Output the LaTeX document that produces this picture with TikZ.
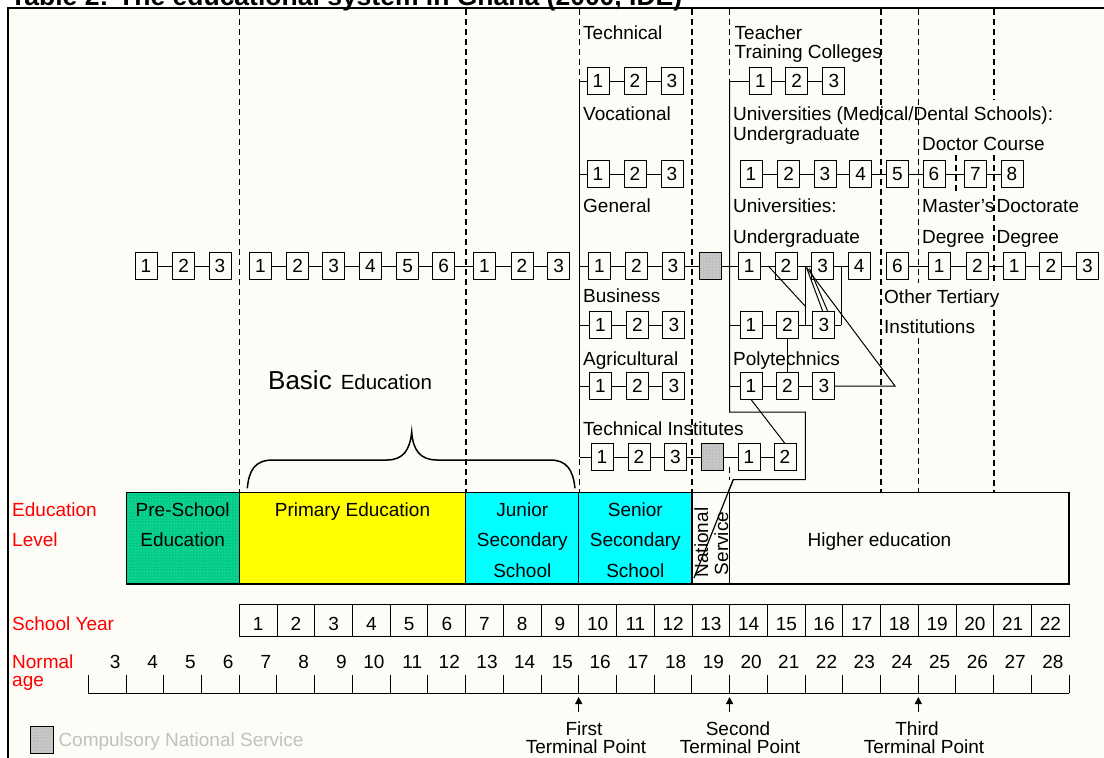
\documentclass[tikz,border=0pt]{standalone}
\usepackage{fontspec}
\setmainfont{Liberation Sans}
\usetikzlibrary{patterns,arrows.meta}
\definecolor{bgc}{RGB}{253,252,247}
\definecolor{psg}{RGB}{0,204,136}
\definecolor{psd}{RGB}{110,235,215}
\definecolor{yel}{RGB}{255,255,0}
\definecolor{cya}{RGB}{0,255,255}
\definecolor{nsg}{RGB}{192,192,192}
\definecolor{lblred}{RGB}{255,0,0}
\definecolor{leggray}{RGB}{192,192,192}
\newcommand\fs{\fontsize{19}{19}\selectfont}
\tikzset{
  bx/.style={draw, line width=1pt, minimum width=22pt, minimum height=27pt, inner sep=0pt, outer sep=0pt, fill=bgc, font=\fs},
  gbx/.style={draw, line width=1pt, minimum width=22pt, minimum height=27pt, inner sep=0pt, outer sep=0pt, preaction={fill=nsg}, pattern=dots, pattern color=white},
  lbl/.style={anchor=base west, inner sep=0pt, font=\fs},
  redlbl/.style={anchor=base west, inner sep=0pt, font=\fs, text=lblred},
  ctr/.style={anchor=base, inner sep=0pt, font=\fs},
  cn/.style={line width=1pt},
  dsh/.style={line width=1.3pt, dash pattern=on 6pt off 4pt},
  lvl/.style={draw, line width=1.3pt, inner sep=0pt, outer sep=0pt, anchor=north west},
  tparrow/.style={line width=1pt, -{Triangle[length=7pt,width=7pt]}},
}
\begin{document}
\begin{tikzpicture}[x=1pt,y=-1pt]
\useasboundingbox (0,0) rectangle (1104,758);
\clip (0,0) rectangle (1104,758);
\fill[white] (0,0) rectangle (1104,758);
\fill[bgc] (8,8) rectangle (1104,758);
\node[anchor=base west, inner sep=0pt, font=\bfseries\fontsize{26.5}{26.5}\selectfont] (title) at (10,5) {Table 2: The educational system in Ghana (2000, IDE)};
\draw[line width=1.8pt] (8,758) -- (8,8) -- (1104,8);

% dashed column separators
\foreach \x in {239.5,466,579.5,692,881} \draw[dsh] (\x,9) -- (\x,492);
\draw[dsh] (918.5,9) -- (918.5,283);
\draw[dsh] (918.5,338) -- (918.5,492);
\draw[dsh] (994,9) -- (994,100);
\draw[dsh] (994,155) -- (994,285);
\draw[dsh] (994,310) -- (994,492);
\draw[dsh] (956,155) -- (956,192);
\draw[dsh] (729.7,9) -- (729.7,81);
\draw[dsh] (729.7,467) -- (729.7,480);

% labels
\node[lbl] (lTech) at (583,39.3) {Technical};
\node[lbl] (lVoc) at (583,120) {Vocational};
\node[lbl] (lGen) at (583,212) {General};
\node[lbl] (lBus) at (583,302.7) {Business};
\node[lbl] (lAgr) at (583,365) {Agricultural};
\node[lbl] (lTI) at (583,435) {Technical Institutes};
\node[lbl] (lTea) at (734.5,39.3) {Teacher};
\node[lbl] (lTrc) at (734.5,58.3) {Training Colleges};
\node[lbl] (lMed) at (733,120) {Universities (Medical/Dental Schools):};
\node[lbl] (lMug) at (733,140) {Undergraduate};
\node[lbl] (lDoc) at (922,150) {Doctor Course};
\node[lbl] (lUni) at (733,212) {Universities:};
\node[lbl] (lUug) at (733,243) {Undergraduate};
\node[lbl] (lMas) at (922,212) {Master{\char"0027}s};
\begin{scope}
\clip (990,190) rectangle (1077,220);
\node[lbl] (lDct) at (996.5,212) {Doctorate};
\end{scope}
\node[lbl] (lDg1) at (922,243) {Degree};
\node[lbl] (lDg2) at (996.5,243) {Degree};
\node[lbl] (lOth) at (884,303) {Other Tertiary};
\node[lbl] (lIns) at (884,333) {Institutions};
\node[lbl] (lPol) at (733,365) {Polytechnics};
\node[anchor=base west, inner sep=0pt] (lBasic) at (268,389) {{\fontsize{26}{26}\selectfont Basic}\hspace{9pt}{\fontsize{20.5}{20.5}\selectfont Education}};

% vertical branch lines
\coordinate (s1) at (579.5,81);
\coordinate (s2) at (579.5,174);
\coordinate (s3) at (579.5,266);
\coordinate (s4) at (579.5,325);
\coordinate (s5) at (579.5,386);
\coordinate (s6) at (579.5,457);
\draw[cn] (s1) -- (s6);
\coordinate (v1) at (729.7,81);
\coordinate (v4) at (729.7,325);
\coordinate (v5) at (729.7,386);
\coordinate (lA) at (729.7,412);
\coordinate (lB) at (805.3,412);
\coordinate (lC) at (805.3,479.5);
\coordinate (lD) at (733.3,479.5);
\coordinate (lE) at (694,578);

% boxes: main row
\foreach \n/\x/\t in {pa1/146/1,pa2/183.7/2,pa3/220/3,
  pb1/260.3/1,pb2/297.7/2,pb3/333.7/3,pb4/370.3/4,pb5/407.7/5,pb6/443.7/6,
  pc1/484.3/1,pc2/522/2,pc3/558.7/3,
  ge1/599.5/1,ge2/636.5/2,ge3/673/3,
  un1/749.2/1,un2/786/2,un3/822.7/3,un4/859.2/4,un6/897.5/6,
  ma1/939.2/1,ma2/977.5/2,do1/1014.2/1,do2/1050.8/2,do3/1087.5/3}
  \node[bx] (\n) at (\x,266) {\t};
\node[gbx] (gns) at (710,266) {};
% technical / teacher row
\foreach \n/\x/\t in {te1/598/1,te2/635/2,te3/672/3,tt1/760.5/1,tt2/796.7/2,tt3/833.8/3}
  \node[bx] (\n) at (\x,81) {\t};
% vocational / medical row
\foreach \n/\x/\t in {vo1/598/1,vo2/635/2,vo3/672/3,
  me1/751/1,me2/788.7/2,me3/825/3,me4/860.7/4,me5/897.3/5,me6/934/6,me7/975.3/7,me8/1012/8}
  \node[bx] (\n) at (\x,174) {\t};
% business / universities second row
\foreach \n/\x/\t in {bu1/600.5/1,bu2/637.5/2,bu3/673.8/3,ub1/751/1,ub2/787.5/2,ub3/823.8/3}
  \node[bx] (\n) at (\x,325) {\t};
% agricultural / polytechnics
\foreach \n/\x/\t in {ag1/600.5/1,ag2/637.5/2,ag3/673.8/3,po1/751/1,po2/787.5/2,po3/823.8/3}
  \node[bx] (\n) at (\x,386) {\t};
% technical institutes
\foreach \n/\x/\t in {ti1/602/1,ti2/639/2,ti3/675.3/3,ti4/749/1,ti5/785/2}
  \node[bx] (\n) at (\x,457) {\t};
\node[gbx] (tns) at (712,457) {};

% chain connectors
\foreach \a/\b in {pa1/pa2,pa2/pa3,pb1/pb2,pb2/pb3,pb3/pb4,pb4/pb5,pb5/pb6,pb6/pc1,pc1/pc2,pc2/pc3,
  ge1/ge2,ge2/ge3,ge3/gns,gns/un1,un1/un2,un2/un3,un3/un4,un6/ma1,ma1/ma2,ma2/do1,do1/do2,do2/do3,
  te1/te2,te2/te3,tt1/tt2,tt2/tt3,
  vo1/vo2,vo2/vo3,me1/me2,me2/me3,me3/me4,me4/me5,me5/me6,me6/me7,me7/me8,
  bu1/bu2,bu2/bu3,ub1/ub2,ub2/ub3,
  ag1/ag2,ag2/ag3,po1/po2,po2/po3,
  ti1/ti2,ti2/ti3,ti3/tns,tns/ti4,ti4/ti5}
  \draw[cn] (\a) -- (\b);
% stubs
\foreach \a/\b in {s1/te1,s2/vo1,s3/ge1,s4/bu1,s5/ag1,s6/ti1,v1/tt1,v4/ub1,v5/po1}
  \draw[cn] (\a) -- (\b);
\draw[cn] (v1) -- (lA) -- (lB) -- (lC) -- (lD) -- (lE);

% university interconnections
\coordinate (d1a) at (768.3,266);
\coordinate (d1b) at (805,306);
\coordinate (k1) at (805,266);
\coordinate (k2) at (805,325);
\coordinate (k3) at (841,266);
\coordinate (k4) at (841,325);
\coordinate (f0) at (806.5,267.5);
\coordinate (f1) at (809.5,268.5);
\coordinate (ap) at (895,386);
\draw[cn] (d1a) -- (d1b);
\draw[cn] (k1) -- (k2);
\draw[cn] (k3) -- (k4);
\draw[cn] (ub3) -- (k4);
\draw[cn] (f0) -- ([xshift=-1pt]ub3.north);
\draw[cn] (f1) -- ([xshift=4pt]ub3.north);
\draw[cn] (po3) -- (ap) -- (f0);
\draw[cn] (ub2) -- (po2);
\draw[cn] (po1.south) -- (ti5.north);

% brace
\draw[line width=1.5pt] (247.3,488.3) .. controls (249,470) and (255,460) .. (273,460) -- (387,460)
  .. controls (403,460) and (410,450) .. (411.7,432) .. controls (413,450) and (420,460) .. (437,460)
  -- (550,460) .. controls (567,460) and (573,470) .. (575,488.3);

% education level boxes
\node[lvl, minimum width=113.1pt, minimum height=91.3pt, preaction={fill=psg}, pattern=dots, pattern color=psd] (pre) at (126.2,492.7) {};
\node[lvl, fill=yel, minimum width=226.45pt, minimum height=91.3pt] (pri) at (239.3,492.7) {};
\node[lvl, fill=cya, minimum width=113.15pt, minimum height=91.3pt] (jss) at (465.65,492.7) {};
\node[lvl, fill=cya, minimum width=113.15pt, minimum height=91.3pt] (sss) at (578.8,492.7) {};
\node[lvl, fill=bgc, minimum width=37.7pt, minimum height=91.3pt] (nsv) at (691.95,492.7) {};
\node[lvl, fill=bgc, minimum width=339.45pt, minimum height=91.3pt] (hed) at (729.65,492.7) {};
\node[ctr] (tPre1) at (182.7,516.7) {Pre-School};
\node[ctr] (tPre2) at (182.7,546.7) {Education};
\node[ctr] (tPri) at (352.5,516.7) {Primary Education};
\node[ctr] (tJ1) at (522.3,516.7) {Junior};
\node[ctr] (tJ2) at (522.3,546.7) {Secondary};
\node[ctr] (tJ3) at (522.3,577.5) {School};
\node[ctr] (tS1) at (635.3,516.7) {Senior};
\node[ctr] (tS2) at (635.3,546.7) {Secondary};
\node[ctr] (tS3) at (635.3,577.5) {School};
\node[ctr, rotate=90] (tN1) at (708,542.5) {National};
\node[ctr, rotate=90] (tN2) at (728,543.5) {Service};
\node[ctr] (tH) at (879.5,546.7) {Higher education};
\draw[line width=1.2pt] (lD) -- (lE);

% red row labels
\node[redlbl] (rEd) at (12,516.7) {Education};
\node[redlbl] (rLv) at (12,546.7) {Level};
\node[redlbl] (rSy) at (12,630) {School Year};
\node[redlbl] (rNo) at (12,668.3) {Normal};
\node[redlbl] (rAg) at (12,686) {age};

% school years
\foreach \k in {1,...,22}{
  \pgfmathsetmacro\cx{239.3+(\k-0.5)*37.725}
  \node[draw, line width=1pt, minimum width=37.725pt, minimum height=32pt, inner sep=0pt, outer sep=0pt] (sy\k) at (\cx,620) {};
  \node[ctr] (syt\k) at (\cx,630) {\k};
}

% age axis
\foreach \i in {0,...,26}{
  \pgfmathsetmacro\tx{88.3+\i*37.725}
  \coordinate (ax\i) at (\tx,693);
  \coordinate (axt\i) at (\tx,675);
  \draw[line width=1pt] (axt\i) -- (ax\i);
}
\draw[line width=1pt] (ax0) -- (ax26);
\foreach \a in {3,...,28}{
  \pgfmathsetmacro\tx{88.3+(\a-2)*37.725-5.5}
  \node[anchor=base east, inner sep=0pt, font=\fs] (age\a) at (\tx,668.3) {\a};
}

% terminal points
\coordinate (ar1b) at (578.7,712); \coordinate (ar1t) at (578.7,697);
\coordinate (ar2b) at (729.6,712); \coordinate (ar2t) at (729.6,697);
\coordinate (ar3b) at (918.3,712); \coordinate (ar3t) at (918.3,697);
\draw[tparrow] (ar1b) -- (ar1t);
\draw[tparrow] (ar2b) -- (ar2t);
\draw[tparrow] (ar3b) -- (ar3t);
\node[ctr] (tp1a) at (584,735) {First};
\node[ctr] (tp1b) at (586,753.3) {Terminal Point};
\node[ctr] (tp2a) at (738,735) {Second};
\node[ctr] (tp2b) at (740,753.3) {Terminal Point};
\node[ctr] (tp3a) at (917,735) {Third};
\node[ctr] (tp3b) at (924,753.3) {Terminal Point};

% legend
\node[gbx, minimum width=22.6pt, minimum height=27.3pt] (leg) at (42,739.7) {};
\node[anchor=base west, inner sep=0pt, font=\fs, text=leggray] (legt) at (58.3,746.7) {Compulsory National Service};
\end{tikzpicture}
\end{document}
